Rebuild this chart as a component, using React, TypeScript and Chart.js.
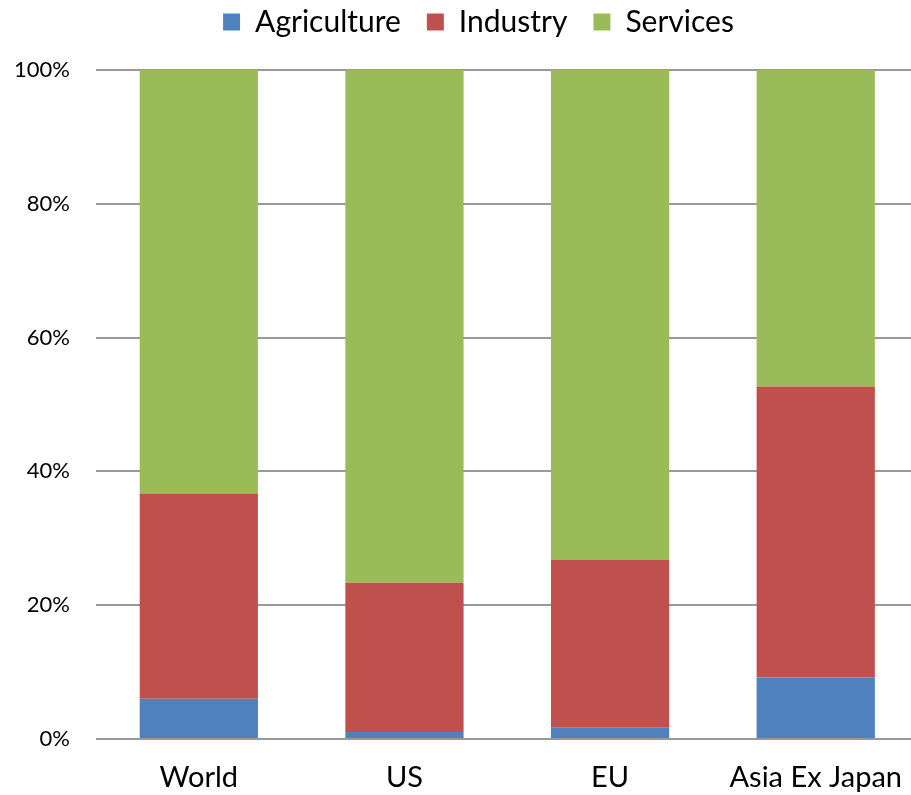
import React, { useEffect, useRef } from "react";
import { Chart, registerables } from "chart.js";

Chart.register(...registerables);

const categories = ["World", "US", "EU", "Asia Ex Japan"];
const agriculture = [6.0, 1.05, 1.75, 9.2];
const industry = [30.7, 22.3, 25.0, 43.5];
const services = [63.3, 76.65, 73.25, 47.3];
const yTicks = [0, 20, 40, 60, 80, 100];

const FONT = "Lato, 'Open Sans', sans-serif";

const legendTweak = {
  id: "legendTweak",
  beforeInit(chart: any) {
    const lg = chart.legend;
    if (!lg) return;
    const orig = lg.fit;
    lg.fit = function () {
      orig.call(lg);
      lg.height = 70;
    };
  },
  afterLayout(chart: any) {
    const lg = chart.legend;
    if (!lg) return;
    lg.left += 17;
    lg.right += 17;
    lg.top -= 19;
    lg.bottom -= 19;
  },
};

export default function App() {
  const ref = useRef<HTMLCanvasElement | null>(null);

  useEffect(() => {
    if (!ref.current) return;
    const chart = new Chart(ref.current, {
      type: "bar",
      data: {
        labels: categories,
        datasets: [
          { label: "Agriculture", data: agriculture, backgroundColor: "#4F81BD" },
          { label: "Industry", data: industry, backgroundColor: "#C0504D" },
          { label: "Services", data: services, backgroundColor: "#9BBB59" },
        ],
      },
      plugins: [legendTweak],
      options: {
        animation: false,
        responsive: false,
        maintainAspectRatio: false,
        layout: { padding: { top: 0, right: 0, bottom: 0, left: 0 } },
        datasets: {
          bar: { categoryPercentage: 1, barPercentage: 0.575 },
        },
        plugins: {
          legend: {
            position: "top",
            labels: {
              boxWidth: 17,
              boxHeight: 17,
              padding: 26,
              color: "#000",
              font: { family: FONT, size: 30 },
            },
          },
          tooltip: { enabled: false },
        },
        scales: {
          x: {
            stacked: true,
            afterFit: (scale: any) => {
              scale.height = 56;
            },
            grid: { display: false, drawTicks: false },
            border: { display: false },
            ticks: { color: "#000", padding: 21, font: { family: FONT, size: 29 } },
          },
          y: {
            stacked: true,
            min: 0,
            max: 100,
            afterBuildTicks: (scale: any) => {
              scale.ticks = yTicks.map((v) => ({ value: v }));
            },
            afterFit: (scale: any) => {
              scale.width = 96;
            },
            grid: { color: "#999999", lineWidth: 2, drawTicks: false },
            border: { display: false },
            ticks: {
              color: "#000",
              padding: 26,
              font: { family: FONT, size: 22 },
              callback: (v: any) => v + "%",
            },
          },
        },
      },
    });
    return () => chart.destroy();
  }, []);

  return (
    <div style={{ position: "fixed", left: 0, top: 0, width: 911, height: 795, overflow: "hidden", background: "#fff" }}>
      <canvas ref={ref} width={923} height={795} style={{ width: 923, height: 795, display: "block" }} />
    </div>
  );
}
